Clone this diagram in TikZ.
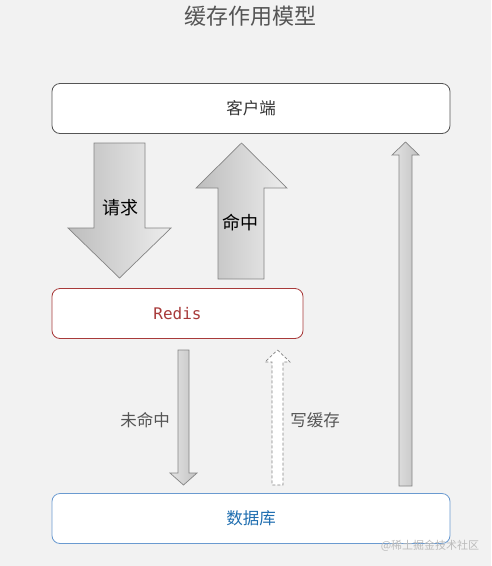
\documentclass[tikz,border=0pt]{standalone}
\usepackage{fontspec}
\newfontfamily\cjk{Noto Sans CJK SC}
\setmonofont{DejaVu Sans Mono}
\definecolor{bgcol}{HTML}{F2F2F2}
\definecolor{txtgray}{HTML}{555555}
\definecolor{edgegray}{HTML}{858585}
\definecolor{redisred}{HTML}{A83A3A}
\definecolor{dbblue}{HTML}{6A9AD0}
\definecolor{dbtext}{HTML}{1F6EB0}
\definecolor{shadedark}{HTML}{BDBDBD}
\definecolor{shadelight}{HTML}{EDEDED}
\definecolor{thindark}{HTML}{C2C2C2}
\definecolor{thinlight}{HTML}{E4E4E4}
\definecolor{markgray}{HTML}{BBBBBB}
\tikzset{
  box/.style={draw, rounded corners=8pt, fill=white, minimum width=398pt, minimum height=50pt, line width=0.8pt},
  bigarrow/.style={draw=edgegray, line width=0.7pt, left color=shadedark, right color=shadelight},
  thinarrow/.style={draw=edgegray, line width=0.7pt, left color=thinlight, right color=thindark},
  dasharrow/.style={draw=edgegray, line width=0.7pt, fill=white, dash pattern=on 3pt off 2pt},
  lbl/.style={text=txtgray, font=\cjk\fontsize{16.5}{19}\selectfont}
}
\begin{document}
\begin{tikzpicture}[x=1pt,y=-1pt]
\fill[bgcol] (0,0) rectangle (491,566);
\useasboundingbox (0,0) rectangle (491,566);
\node[text=txtgray, font=\cjk\fontsize{22}{25}\selectfont] (title) at (250,16) {缓存作用模型};
% boxes
\node[box, draw=txtgray, text=black!80, font=\cjk\fontsize{16.5}{19}\selectfont] (client) at (251,108.5) {客户端};
\node[box, draw=redisred, minimum width=251pt, text=redisred, font=\ttfamily\fontsize{16}{18}\selectfont] (redis) at (177.5,313.5) {Redis};
\node[box, draw=dbblue, text=dbtext, font=\cjk\fontsize{16.5}{19}\selectfont] (db) at (251,518.5) {数据库};
% big arrows
\shadedraw[bigarrow] (94,143) -- (145,143) -- (145,228) -- (171,228) -- (119.5,278) -- (68,228) -- (94,228) -- cycle;
\shadedraw[bigarrow] (241.5,143) -- (287,188) -- (264,188) -- (264,279) -- (218,279) -- (218,188) -- (196,188) -- cycle;
\node[font=\cjk\fontsize{18}{21}\selectfont] (req) at (120,208) {请求};
\node[font=\cjk\fontsize{18}{21}\selectfont] (hit) at (240,223) {命中};
% thin arrows
\shadedraw[thinarrow] (178,350) -- (189,350) -- (189,473) -- (197,473) -- (183.5,485) -- (170,473) -- (178,473) -- cycle;
\filldraw[dasharrow] (277.5,350) -- (290,362) -- (283,362) -- (283,485) -- (272,485) -- (272,362) -- (265,362) -- cycle;
\shadedraw[thinarrow] (405.5,142) -- (419,155) -- (412,155) -- (412,486) -- (399,486) -- (399,155) -- (392,155) -- cycle;
\node[lbl] (miss) at (145,420) {未命中};
\node[lbl] (write) at (315,420) {写缓存};
\node[text=markgray, font=\cjk\fontsize{11}{13}\selectfont] (mark) at (430,546) {@稀土掘金技术社区};
\end{tikzpicture}
\end{document}
